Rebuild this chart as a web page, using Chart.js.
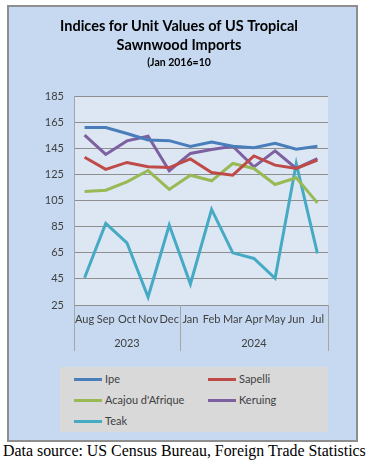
<!DOCTYPE html>
<html>
<head>
<meta charset="utf-8">
<script src="https://cdn.jsdelivr.net/npm/chart.js"></script>
<style>
body { margin:0; width:387px; height:467px; background:#fff; position:relative; overflow:hidden; font-family: Lato, sans-serif }
#frame { position:absolute; left:7px; top:5px; width:351px; height:437px; box-sizing:border-box; border:2px solid #8e8e8e; background:#c6d9f1 }
#wrap { position:absolute; left:0; top:0; width:387px; height:360px }
#legend { position:absolute; left:60px; top:367px; width:268px; height:65px; background:#d9d9d9 }
.item { position:absolute; font-size:11px; color:#404040; line-height:14px }
.item span { display:inline-block; width:28px; height:3px; vertical-align:middle; margin-right:3px; position:relative; top:-1px }
#source { position:absolute; left:3px; top:442px; font-family:"Liberation Serif", serif; font-size:15.9px; color:#000; white-space:nowrap }
</style>
</head>
<body>
<div id="frame"></div>
<div id="wrap"><canvas id="chart"></canvas></div>
<div id="legend"></div>
<div id="source">Data source: US Census Bureau, Foreign Trade Statistics</div>

<script>
// ===== DATA =====
const months = ["Aug","Sep","Oct","Nov","Dec","Jan","Feb","Mar","Apr","May","Jun","Jul"];
const years = [{ label: "2023", from: 0, to: 4 }, { label: "2024", from: 5, to: 11 }];
const yTicks = [25, 45, 65, 85, 105, 125, 145, 165, 185];

const ipe     = [161, 161, 156.5, 151.5, 151, 146.5, 150, 146.7, 145.5, 149, 144.5, 146.7];
const sapelli = [138.3, 129, 134.3, 131, 130.4, 137, 126.6, 124.5, 139.3, 132.2, 129.7, 136];
const acajou  = [112, 113, 119.4, 128.1, 113.6, 124.5, 120.2, 133.5, 129.7, 117.4, 122.5, 103.3];
const keruing = [155.2, 140.4, 150.8, 154.4, 127.9, 141.2, 144.2, 146.7, 130.9, 143.2, 129.7, 137.3];
const teak    = [45.9, 87.6, 72.7, 31.1, 86.3, 41.1, 98.3, 65, 60.7, 45.4, 133.5, 64.6];

const series = [
  { name: "Ipe", data: ipe, color: "#4a7ebb" },
  { name: "Sapelli", data: sapelli, color: "#be4b48" },
  { name: "Acajou d'Afrique", data: acajou, color: "#98b954" },
  { name: "Keruing", data: keruing, color: "#7d60a0" },
  { name: "Teak", data: teak, color: "#46aac5" }
];

// plot background + year row under the month labels
const extras = {
  id: "extras",
  beforeDraw(chart) {
    const { ctx, chartArea: a } = chart;
    ctx.save();
    ctx.fillStyle = "#dde7f3";
    ctx.fillRect(a.left, a.top, a.right - a.left, a.bottom - a.top);
    ctx.restore();
  },
  afterDraw(chart) {
    const { ctx, chartArea: a } = chart;
    const x = chart.scales.x;
    const bottom = a.bottom + 46;
    ctx.save();
    ctx.strokeStyle = "#a6a6a6";
    ctx.lineWidth = 1;
    const cuts = [a.left, (x.getPixelForTick(4) + x.getPixelForTick(5)) / 2, a.right];
    cuts.forEach(c => {
      const px = Math.round(c) + 0.5;
      ctx.beginPath();
      ctx.moveTo(px, a.bottom);
      ctx.lineTo(px, bottom);
      ctx.stroke();
    });
    ctx.fillStyle = "#404040";
    ctx.font = "11px Lato";
    ctx.textAlign = "center";
    ctx.textBaseline = "middle";
    years.forEach(y => {
      const l = y.from === 0 ? a.left : (x.getPixelForTick(y.from - 1) + x.getPixelForTick(y.from)) / 2;
      const r = y.to === months.length - 1 ? a.right : (x.getPixelForTick(y.to) + x.getPixelForTick(y.to + 1)) / 2;
      ctx.fillText(y.label, (l + r) / 2, a.bottom + 38);
    });
    ctx.restore();
  }
};

const chart = new Chart(document.getElementById("chart"), {
  type: "line",
  data: {
    labels: months,
    datasets: series.map(s => ({
      label: s.name,
      data: s.data,
      borderColor: s.color,
      backgroundColor: s.color,
      borderWidth: 3,
      pointRadius: 0,
      tension: 0
    }))
  },
  options: {
    responsive: true,
    maintainAspectRatio: false,
    animation: false,
    layout: { padding: { left: 30, right: 59, top: 0, bottom: 9 } },
    plugins: {
      legend: { display: false },
      tooltip: { enabled: false },
      title: {
        display: true,
        text: ["Indices for Unit Values of US Tropical", "Sawnwood Imports"],
        color: "#000",
        font: { family: "Lato", size: 14.5, weight: "bold", lineHeight: 1.3 },
        padding: { top: 17, bottom: 2 }
      },
      subtitle: {
        display: true,
        text: "(Jan 2016=10",
        color: "#000",
        font: { family: "Lato", size: 10.5, weight: "bold" },
        padding: { top: 0, bottom: 27 }
      }
    },
    scales: {
      x: {
        offset: true,
        grid: { display: false, drawTicks: false },
        border: { display: false },
        ticks: { color: "#404040", font: { family: "Lato", size: 11 }, padding: 8, maxRotation: 0, autoSkip: false },
        afterFit(scale) { scale.height = 46; }
      },
      y: {
        min: 25,
        max: 185,
        afterBuildTicks(scale) { scale.ticks = yTicks.map(v => ({ value: v })); },
        grid: { color: "#8f8f8f", lineWidth: 1, drawTicks: false },
        border: { display: true, color: "#a6a6a6" },
        ticks: { color: "#404040", font: { family: "Lato", size: 11 }, padding: 10 },
        afterFit(scale) { scale.width = 44; }
      }
    }
  },
  plugins: [extras]
});

// ===== LEGEND =====
const legend = document.getElementById("legend");
series.forEach((s, i) => {
  const d = document.createElement("div");
  d.className = "item";
  d.style.left = (i % 2 === 0 ? 14 : 148) + "px";
  d.style.top = (5 + Math.floor(i / 2) * 21) + "px";
  d.innerHTML = '<span style="background:' + s.color + '"></span>' + s.name;
  legend.appendChild(d);
});
</script>
</body>
</html>
